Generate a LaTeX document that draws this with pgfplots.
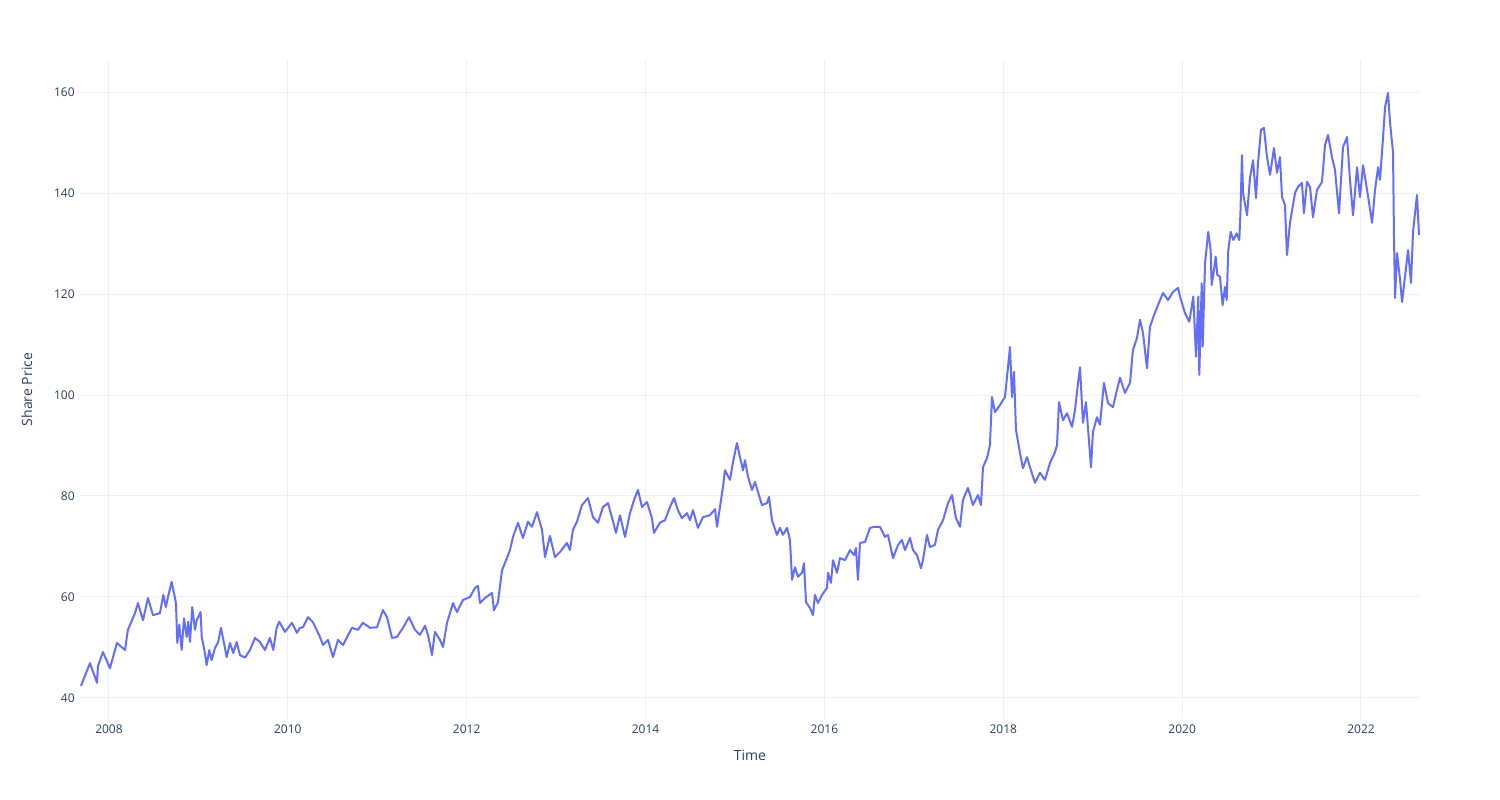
\documentclass[border=0pt]{standalone}
\usepackage{pgfplots}
\pgfplotsset{compat=1.18}
\usepackage{pgfplotstable}
\usepackage{fontspec}
\setmainfont{Open Sans}
\definecolor{gridc}{RGB}{235,240,248}
\definecolor{linec}{RGB}{99,110,250}
\definecolor{textc}{RGB}{42,63,95}
\pgfplotstableread{
year value
2007.687 42.4
2007.788 46.9
2007.866 43.0
2007.877 46.3
2007.933 49.1
2008.011 45.9
2008.089 50.9
2008.179 49.5
2008.212 53.5
2008.291 56.8
2008.324 58.8
2008.380 55.4
2008.436 59.8
2008.492 56.4
2008.570 56.8
2008.607 60.4
2008.637 58.0
2008.660 60.0
2008.701 63.0
2008.727 60.8
2008.749 58.8
2008.764 50.9
2008.786 54.5
2008.813 49.5
2008.839 55.8
2008.869 52.1
2008.887 55.1
2008.906 51.1
2008.931 58.0
2008.962 53.5
2008.981 55.4
2009.025 57.0
2009.037 52.1
2009.073 48.9
2009.092 46.5
2009.122 49.5
2009.148 47.5
2009.185 49.9
2009.222 51.1
2009.252 53.9
2009.297 49.9
2009.316 48.1
2009.353 50.9
2009.390 48.9
2009.428 51.1
2009.465 48.5
2009.521 48.0
2009.577 49.5
2009.633 51.9
2009.688 51.1
2009.744 49.5
2009.800 51.9
2009.837 49.5
2009.875 53.9
2009.904 55.1
2009.968 53.1
2010.046 54.9
2010.102 52.9
2010.136 53.9
2010.169 54.0
2010.225 56.0
2010.281 55.0
2010.359 52.1
2010.393 50.5
2010.449 51.5
2010.505 48.1
2010.561 51.5
2010.617 50.5
2010.717 53.9
2010.784 53.5
2010.840 54.9
2010.919 53.9
2010.997 54.0
2011.064 57.4
2011.109 56.0
2011.165 51.9
2011.220 52.1
2011.288 53.9
2011.355 56.0
2011.422 53.5
2011.478 52.5
2011.534 54.3
2011.567 52.5
2011.612 48.5
2011.645 53.1
2011.701 51.5
2011.735 50.1
2011.780 54.9
2011.813 56.8
2011.847 58.8
2011.891 57.0
2011.958 59.4
2012.037 60.0
2012.093 61.8
2012.126 62.2
2012.149 58.8
2012.204 59.8
2012.283 60.8
2012.305 57.4
2012.350 59.0
2012.395 65.3
2012.450 67.7
2012.484 69.3
2012.518 71.9
2012.574 74.7
2012.629 71.7
2012.685 74.9
2012.730 73.9
2012.786 76.8
2012.842 73.3
2012.876 67.9
2012.931 72.1
2012.987 67.9
2013.043 68.9
2013.121 70.7
2013.155 69.3
2013.188 73.3
2013.233 74.9
2013.289 78.2
2013.356 79.6
2013.412 75.8
2013.468 74.7
2013.524 77.8
2013.580 78.6
2013.624 75.8
2013.669 72.7
2013.714 76.2
2013.770 71.9
2013.826 76.6
2013.871 79.2
2013.915 81.2
2013.960 77.8
2014.016 78.8
2014.072 75.6
2014.094 72.7
2014.161 74.7
2014.217 75.2
2014.273 77.8
2014.318 79.6
2014.362 77.2
2014.407 75.6
2014.463 76.6
2014.497 75.2
2014.530 77.2
2014.586 73.7
2014.642 75.8
2014.720 76.2
2014.777 77.4
2014.799 73.9
2014.832 77.8
2014.866 81.8
2014.888 85.1
2014.944 83.2
2014.978 86.7
2015.022 90.5
2015.056 87.7
2015.090 85.1
2015.112 87.1
2015.146 83.8
2015.190 81.2
2015.224 82.8
2015.257 80.8
2015.302 78.2
2015.358 78.6
2015.380 79.8
2015.414 75.2
2015.470 72.3
2015.503 73.7
2015.537 72.3
2015.582 73.7
2015.615 71.3
2015.638 63.4
2015.671 65.9
2015.705 64.0
2015.750 64.8
2015.772 66.7
2015.794 59.0
2015.839 57.8
2015.872 56.4
2015.894 60.4
2015.928 58.8
2015.973 60.4
2016.029 61.8
2016.040 64.8
2016.073 62.8
2016.096 67.3
2016.141 64.8
2016.174 67.7
2016.230 67.3
2016.286 69.3
2016.331 68.3
2016.353 69.7
2016.375 63.4
2016.398 70.7
2016.454 70.9
2016.510 73.7
2016.566 73.9
2016.621 73.9
2016.677 71.9
2016.711 72.3
2016.767 67.7
2016.823 70.3
2016.867 71.3
2016.901 69.3
2016.957 71.7
2016.990 69.3
2017.035 68.3
2017.080 65.7
2017.102 67.3
2017.147 72.3
2017.180 69.9
2017.236 70.3
2017.270 73.3
2017.326 75.2
2017.382 78.6
2017.427 80.2
2017.471 75.6
2017.516 73.9
2017.549 79.2
2017.605 81.6
2017.661 78.2
2017.717 80.2
2017.751 78.2
2017.773 85.7
2017.818 87.5
2017.851 90.1
2017.874 99.6
2017.907 96.6
2017.963 98.0
2018.019 99.6
2018.053 105.5
2018.075 109.5
2018.097 99.6
2018.120 104.6
2018.142 93.1
2018.187 88.5
2018.220 85.5
2018.265 87.7
2018.299 85.7
2018.355 82.6
2018.410 84.6
2018.466 83.2
2018.522 86.5
2018.578 88.7
2018.601 90.1
2018.623 98.6
2018.668 95.0
2018.713 96.4
2018.769 93.7
2018.802 97.0
2018.836 102.4
2018.858 105.5
2018.891 94.5
2018.925 98.6
2018.981 85.7
2019.003 92.7
2019.048 95.6
2019.081 94.1
2019.126 102.4
2019.171 98.4
2019.227 97.6
2019.271 101.0
2019.305 103.4
2019.361 100.4
2019.417 102.4
2019.450 108.9
2019.495 111.3
2019.529 114.9
2019.562 112.3
2019.607 105.3
2019.640 113.5
2019.685 115.8
2019.730 117.8
2019.786 120.2
2019.842 118.8
2019.898 120.4
2019.954 121.2
2019.976 119.5
2020.032 116.2
2020.080 114.5
2020.125 119.5
2020.155 107.6
2020.181 119.5
2020.192 104.0
2020.219 122.1
2020.230 109.6
2020.256 126.1
2020.292 132.3
2020.319 128.7
2020.330 121.8
2020.348 123.8
2020.375 127.4
2020.393 123.8
2020.423 123.4
2020.453 117.8
2020.479 121.4
2020.498 118.8
2020.516 128.7
2020.543 132.3
2020.572 130.7
2020.610 132.0
2020.639 130.7
2020.652 136.0
2020.669 147.5
2020.681 140.0
2020.726 135.6
2020.759 143.0
2020.793 146.5
2020.826 139.0
2020.848 145.9
2020.882 152.5
2020.915 152.9
2020.949 147.1
2020.983 143.6
2021.027 148.9
2021.061 144.0
2021.094 147.1
2021.117 139.2
2021.150 137.6
2021.172 127.7
2021.206 134.1
2021.262 140.0
2021.295 141.2
2021.340 142.0
2021.362 136.0
2021.396 142.2
2021.430 141.2
2021.463 135.2
2021.508 140.6
2021.564 142.2
2021.598 149.5
2021.631 151.5
2021.676 147.1
2021.709 144.6
2021.754 136.0
2021.799 149.1
2021.844 151.1
2021.877 142.6
2021.911 135.6
2021.956 145.1
2021.989 139.2
2022.023 145.5
2022.068 140.6
2022.124 134.1
2022.157 140.6
2022.191 145.1
2022.213 142.6
2022.247 151.1
2022.269 157.0
2022.302 159.8
2022.325 153.9
2022.358 148.1
2022.369 131.3
2022.381 119.2
2022.403 128.1
2022.437 122.8
2022.459 118.4
2022.492 123.4
2022.526 128.7
2022.559 122.2
2022.582 132.3
2022.626 139.6
2022.649 131.7
}\pricedata
\begin{document}
\begin{tikzpicture}
\begin{axis}[
  name=ax,
  scale only axis,
  width=1005pt, height=494.25pt,
  xmin=2007.676, xmax=2022.66,
  ymin=35.84, ymax=166.34,
  xtick={2008,2010,...,2022},
  ytick={40,60,...,160},
  grid=major,
  major grid style={draw=gridc, line width=0.75pt},
  axis line style={draw=none},
  tick style={draw=none},
  major tick length=0pt,
  /pgf/number format/assume math mode=true,
  x tick label style={/pgf/number format/1000 sep={}, font=\fontsize{9}{10}\selectfont, text=textc, anchor=north, yshift=-1pt},
  y tick label style={font=\fontsize{9}{10}\selectfont, text=textc, anchor=east, xshift=-0.5pt},
  xlabel={Time},
  ylabel={Share Price},
  xlabel style={at={(axis description cs:0.5,0)}, anchor=center, yshift=-27.5pt, font=\fontsize{10.5}{12}\selectfont, text=textc},
  ylabel style={at={(axis description cs:0,0.5)}, anchor=center, rotate=0, xshift=0pt, yshift=39.75pt, font=\fontsize{10.5}{12}\selectfont, text=textc},
  clip=true,
]
\addplot[color=linec, line width=1.5pt, line join=round, mark=none] table[x=year, y=value] {\pricedata};
\end{axis}
\path ([xshift=-60pt,yshift=-60.75pt]ax.south west) rectangle ([xshift=60pt,yshift=45pt]ax.north east);
\end{tikzpicture}
\end{document}
